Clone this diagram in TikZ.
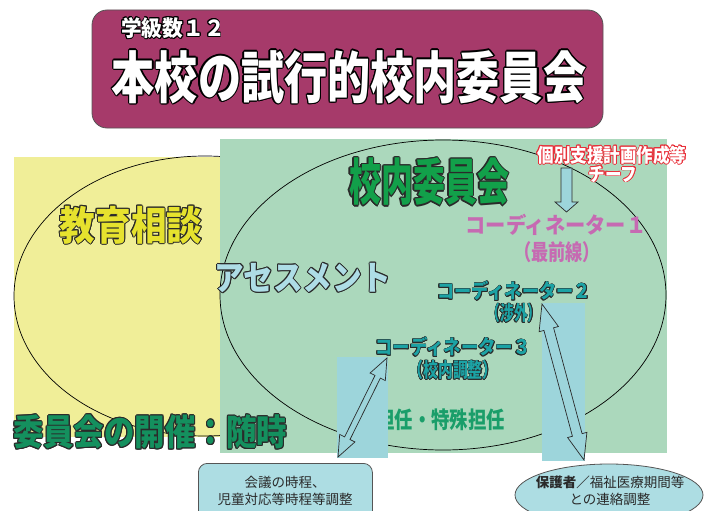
\documentclass[tikz,border=0pt]{standalone}
\usepackage{fontspec}
\usepackage{graphicx}
\usetikzlibrary{shapes.geometric}
\newfontfamily\cjk{Noto Sans CJK JP}
\definecolor{magbox}{HTML}{A63A6A}
\definecolor{paleyel}{HTML}{F0EE98}
\definecolor{palegrn}{HTML}{ABD8BC}
\definecolor{ltblue}{HTML}{9DD5DB}
\definecolor{boxblue}{HTML}{ADDDE3}
\definecolor{yeltxt}{HTML}{E6E22E}
\definecolor{grntxt}{HTML}{12A04A}
\definecolor{asstxt}{HTML}{AEDDE6}
\definecolor{pinktxt}{HTML}{C66AB2}
\definecolor{tealtxt}{HTML}{1CA3A5}
\definecolor{tantxt}{HTML}{1A9E6A}
\definecolor{meettxt}{HTML}{14905E}
\definecolor{redol}{HTML}{E8303A}
\definecolor{dk}{HTML}{2A2A2A}
\newcommand\fs[1]{\fontsize{#1}{#1}\selectfont}
\tikzset{
  txt/.style={inner sep=0pt, outer sep=0pt, anchor=center},
  venn/.style={draw=black, line width=0.7pt},
  arrowshape/.style={draw=dk, line width=0.7pt, fill=ltblue, line join=miter},
  infobox/.style={draw=dk!80, line width=0.8pt, fill=boxblue},
}
% outlined text node: [radius]{name}{position}{font}{outline colour}{fill colour}{text}
\newcommand\oltnode[7][0.8]{%
  \foreach \a in {0,30,...,330}
    \node[txt, font=#4, text=#5, xshift={#1*cos(\a)*1pt}, yshift={#1*sin(\a)*1pt}] (#2-o\a) at (#3) {#7};
  \node[txt, font=#4, text=#6] (#2) at (#3) {#7};
}
\begin{document}
\begin{tikzpicture}[x=1pt,y=-1pt]
\useasboundingbox (0,0) rectangle (704,511);
% title
\draw[fill=magbox, draw=dk!80, line width=0.8pt, rounded corners=15pt] (92,10) rectangle (603,128);
\oltnode[0.8]{grade}{173,28}{\cjk\bfseries\fs{22}}{black}{white}{\scalebox{0.94}[1]{学級数１２}}
\oltnode[1.3]{title}{349,77}{\cjk\bfseries\fs{56}}{black}{white}{\scalebox{0.77}[1]{本校の試行的校内委員会}}
% venn backgrounds
\fill[paleyel] (14,157) rectangle (220,437);
\draw[venn] (205,296) ellipse [x radius=191, y radius=140];
\fill[palegrn] (220,139) rectangle (667,453);
\draw[venn] (443,295) ellipse [x radius=223, y radius=155];
% labels
\oltnode[1]{soudan}{131,225}{\cjk\bfseries\fs{40}}{dk}{yeltxt}{\scalebox{0.89}[1]{教育相談}}
\oltnode[1.1]{iinkai}{429,182}{\cjk\bfseries\fs{50}}{dk}{grntxt}{\scalebox{0.64}[1]{校内委員会}}
\oltnode[0.9]{assess}{303,278}{\cjk\bfseries\fs{34}}{dk}{asstxt}{\scalebox{0.87}[1]{アセスメント}}
\node[txt, font=\cjk\bfseries\fs{22}, text=pinktxt] (co1) at (556,225) {\scalebox{0.92}[1]{コーディネーター１}};
\node[txt, font=\cjk\bfseries\fs{22}, text=pinktxt] (co1b) at (557,252) {\scalebox{0.78}[1]{（最前線）}};
\oltnode[0.6]{co2}{514,291}{\cjk\bfseries\fs{20}}{dk}{tealtxt}{\scalebox{0.86}[1]{コーディネーター２}}
\oltnode[0.6]{co2b}{514,313}{\cjk\bfseries\fs{20}}{dk}{tealtxt}{\scalebox{0.68}[1]{（渉外）}}
\oltnode[0.6]{co3}{453,347}{\cjk\bfseries\fs{20}}{dk}{tealtxt}{\scalebox{0.87}[1]{コーディネーター３}}
\oltnode[0.6]{co3b}{453,370}{\cjk\bfseries\fs{20}}{dk}{tealtxt}{\scalebox{0.74}[1]{（校内調整）}}
\node[txt, anchor=east, font=\cjk\bfseries\fs{23}, text=tantxt] (tannin) at (505,420) {\scalebox{0.8}[1]{担任・特殊担任}};
% light blue backgrounds of the arrows
\fill[ltblue] (337,357) rectangle (388,458);
\fill[ltblue] (542,303) rectangle (585,461);
% bottom boxes
\node[infobox, rounded corners=9pt, minimum width=174pt, minimum height=64pt, anchor=north west] (jitei) at (198,463) {};
\node[txt, font=\cjk\fs{13.5}, align=center, text=dk] (jiteitxt) at (285,491) {会議の時程、\\[3pt]児童対応等時程等調整};
\node[infobox, ellipse, minimum width=188pt, minimum height=62pt] (hogo) at (609,495) {};
\node[txt, font=\cjk\fs{13.5}, align=center, text=dk] (hogotxt) at (610,491) {{\bfseries 保護者／}福祉医療期間等\\[3pt]との連絡調整};
% double arrows
\coordinate (a1s) at (338,457);
\coordinate (a2s) at (542,304);
\begin{scope}[shift={(a1s)}, rotate=63.67]
\draw[arrowshape] (0,0) -- (21,8.5) -- (21,3) -- (89.5,3) -- (89.5,8.5) -- (110.5,0) -- (89.5,-8.5) -- (89.5,-3) -- (21,-3) -- (21,-8.5) -- cycle;
\end{scope}
\begin{scope}[shift={(a2s)}, rotate=-74.93]
\draw[arrowshape] (0,0) -- (26,10) -- (26,5) -- (135.6,5) -- (135.6,10) -- (161.6,0) -- (135.6,-10) -- (135.6,-5) -- (26,-5) -- (26,-10) -- cycle;
\end{scope}
% single down arrow
\draw[arrowshape] (561,168) -- (572,168) -- (572,202) -- (578,202) -- (566.5,212) -- (555,202) -- (561,202) -- cycle;
% red chief text
\oltnode[0.8]{kobetsu}{612,155}{\cjk\bfseries\fs{19}}{redol}{white}{\scalebox{0.87}[1]{個別支援計画作成等}}
\oltnode[0.8]{chief}{613,174}{\cjk\bfseries\fs{19}}{redol}{white}{\scalebox{0.87}[1]{チーフ}}
% meeting
\oltnode[1]{meeting}{150,432}{\cjk\bfseries\fs{36}}{dk}{meettxt}{\scalebox{0.845}[1]{委員会の開催：随時}}
\end{tikzpicture}
\end{document}
